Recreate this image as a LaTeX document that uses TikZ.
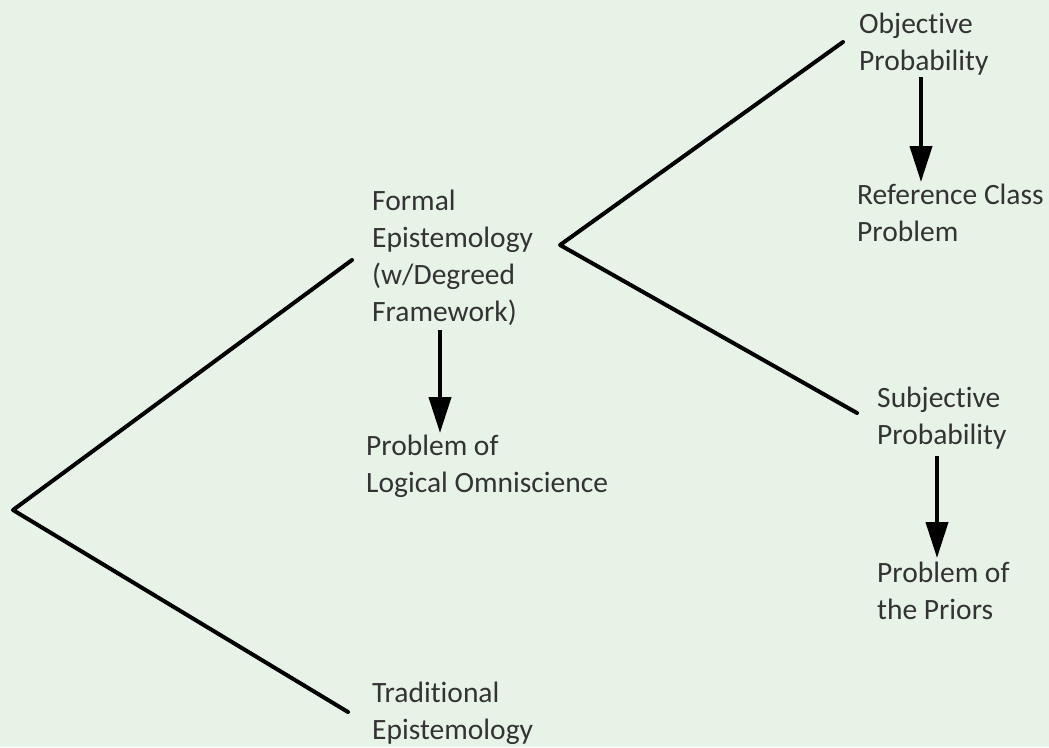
\documentclass[tikz,border=0pt]{standalone}
\usepackage{fontspec}
\setmainfont{Carlito}[RawFeature={-liga;-dlig}]
\usetikzlibrary{arrows.meta}
\definecolor{bg}{HTML}{E8F3E8}
\definecolor{txt}{HTML}{333333}
\begin{document}
\begin{tikzpicture}[x=1pt,y=-1pt,
  lbl/.style={anchor=north west, align=left, inner sep=0pt, text=txt, font=\fontsize{29.5}{37}\selectfont},
  branch/.style={line width=4pt, line cap=round, line join=round},
  arr/.style={line width=4pt, -{Triangle[width=22pt,length=36pt]}}]
\fill[bg] (0,0) rectangle (1049,747);
\useasboundingbox (0,0) rectangle (1049,747);
% labels
\node[lbl] (formal) at (372,190) {Formal\\Epistemology\\(w/Degreed\\Framework)};
\node[lbl] (plo) at (366,435) {Problem of\\Logical Omniscience};
\node[lbl] (trad) at (372,682) {Traditional\\Epistemology};
\node[lbl] (obj) at (859,13) {Objective\\Probability};
\node[lbl] (ref) at (857,184) {Reference Class\\Problem};
\node[lbl] (subj) at (877,387) {Subjective\\Probability};
\node[lbl] (prior) at (877,562) {Problem of\\the Priors};
% branch coordinates
\coordinate (v1) at (13,510);
\coordinate (f1) at (352,260);
\coordinate (t1) at (348,712);
\coordinate (v2) at (560,245);
\coordinate (o1) at (843,42);
\coordinate (s1) at (857,413);
\draw[branch] (f1) -- (v1) -- (t1);
\draw[branch] (o1) -- (v2) -- (s1);
% arrows
\coordinate (a1s) at (440,330);
\coordinate (a1e) at (440,433);
\coordinate (a2s) at (921,77);
\coordinate (a2e) at (921,182);
\coordinate (a3s) at (937,456);
\coordinate (a3e) at (937,558);
\draw[arr] (a1s) -- (a1e);
\draw[arr] (a2s) -- (a2e);
\draw[arr] (a3s) -- (a3e);
\end{tikzpicture}
\end{document}
